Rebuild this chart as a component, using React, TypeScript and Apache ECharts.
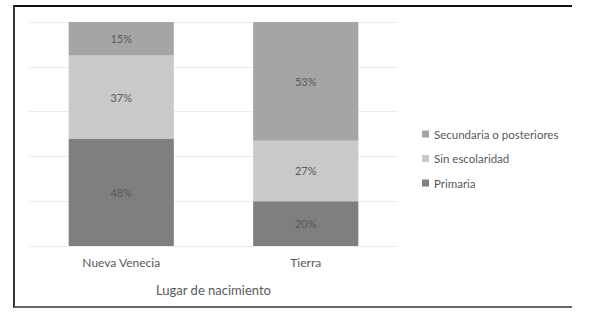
import React, { useEffect, useRef } from "react";
import * as echarts from "echarts";

const categories = ["Nueva Venecia", "Tierra"];
const primaria = [48, 20];
const sinEscolaridad = [37, 27];
const secundaria = [15, 53];
const seriesNames = ["Primaria", "Sin escolaridad", "Secundaria o posteriores"];
const legendOrder = ["Secundaria o posteriores", "Sin escolaridad", "Primaria"];
const axisTitle = "Lugar de nacimiento";

export default function App() {
  const ref = useRef<HTMLDivElement>(null);
  useEffect(() => {
    if (!ref.current) return;
    const chart = echarts.init(ref.current, null, { renderer: "svg" });
    const font = "Lato, 'Open Sans', sans-serif";
    const mk = (name: string, data: number[], color: string) => ({
      name,
      type: "bar",
      stack: "total",
      data,
      barWidth: "57%",
      itemStyle: { color },
      label: {
        show: true,
        position: "inside",
        formatter: "{c}%",
        color: "#595959",
        fontSize: 11,
        fontFamily: font,
      },
    });
    chart.setOption({
      animation: false,
      backgroundColor: "#fff",
      textStyle: { fontFamily: font },
      grid: { left: 29, right: 192, top: 22, bottom: 68 },
      legend: {
        data: legendOrder,
        orient: "vertical",
        left: 417,
        top: 123,
        itemWidth: 7,
        itemHeight: 7,
        itemGap: 12.5,
        icon: "rect",
        textStyle: { color: "#595959", fontSize: 11.5, fontFamily: font },
      },
      xAxis: {
        type: "category",
        data: categories,
        axisLine: { show: false },
        axisTick: { show: false },
        axisLabel: { color: "#595959", fontSize: 12, margin: 10, fontFamily: font },
        name: axisTitle,
        nameLocation: "middle",
        nameGap: 37,
        nameTextStyle: { color: "#595959", fontSize: 13, fontFamily: font },
      },
      yAxis: {
        type: "value",
        min: 0,
        max: 100,
        interval: 20,
        axisLabel: { show: false },
        axisLine: { show: false },
        axisTick: { show: false },
        splitLine: { lineStyle: { color: "#ececec", width: 1 } },
      },
      graphic: [
        { type: "line", shape: { x1: 14, y1: 6, x2: 572, y2: 6 }, style: { stroke: "#111", lineWidth: 2 } },
        { type: "line", shape: { x1: 14, y1: 5, x2: 14, y2: 308 }, style: { stroke: "#333", lineWidth: 2 } },
        { type: "line", shape: { x1: 14, y1: 307, x2: 572, y2: 307 }, style: { stroke: "#666", lineWidth: 2 } },
      ],
      series: [
        mk(seriesNames[0], primaria, "#7f7f7f"),
        mk(seriesNames[1], sinEscolaridad, "#c9c9c9"),
        mk(seriesNames[2], secundaria, "#a5a5a5"),
      ],
    });
    return () => chart.dispose();
  }, []);
  return (
    <div
      ref={ref}
      style={{ position: "fixed", left: 0, top: 0, width: 590, height: 314 }}
    />
  );
}
